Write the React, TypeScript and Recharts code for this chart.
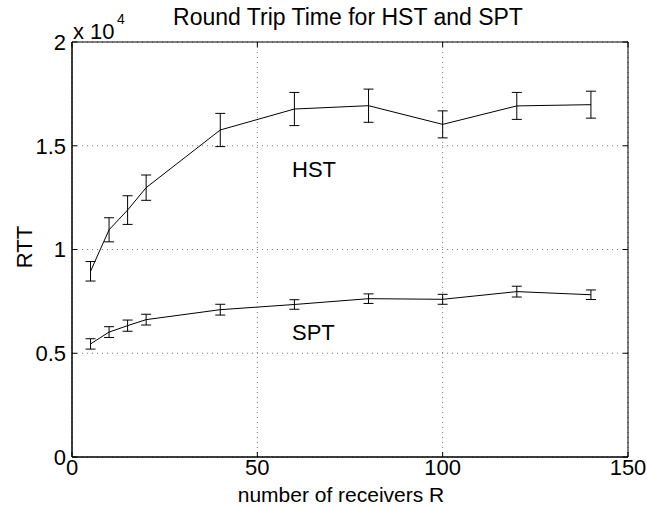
import React from "react";
import {
  LineChart,
  Line,
  XAxis,
  YAxis,
  CartesianGrid,
  ErrorBar,
  ReferenceArea,
} from "recharts";

const receivers = [5, 10, 15, 20, 40, 60, 80, 100, 120, 140];
const hstRtt = [8950, 10950, 11900, 12980, 15760, 16770, 16930, 16030, 16920, 16980];
const hstErr = [470, 580, 690, 610, 800, 800, 800, 650, 650, 650];
const sptRtt = [5450, 6020, 6330, 6620, 7100, 7350, 7630, 7600, 7970, 7820];
const sptErr = [250, 260, 270, 260, 260, 230, 230, 240, 260, 230];

const xTicks = [0, 50, 100, 150];
const yTicks = [0, 5000, 10000, 15000, 20000];

const data = receivers.map((r, i) => ({
  r,
  hst: hstRtt[i],
  hstErr: hstErr[i],
  spt: sptRtt[i],
  sptErr: sptErr[i],
}));

const font = "'Liberation Sans', Arial, sans-serif";

// plot box edges (from the margins + axis sizes below)
const LEFT = 72;
const RIGHT = 628;
const TOP = 42;
const BOTTOM = 457;

// matlab style: ticks point inwards, mirrored on the opposite side
const YTick = (props: any) => {
  const { x, y, payload } = props;
  return (
    <g>
      <text x={x} y={y} dy="0.36em" textAnchor="end" fontSize={22} fontFamily={font} fill="#000">
        {String(payload.value / 10000)}
      </text>
      <line x1={LEFT} x2={LEFT + 5} y1={y} y2={y} stroke="#000" />
      <line x1={RIGHT - 5} x2={RIGHT} y1={y} y2={y} stroke="#000" />
    </g>
  );
};

const XTick = (props: any) => {
  const { x, y, payload } = props;
  return (
    <g>
      <text x={x} y={y} dy="0.7em" textAnchor="middle" fontSize={22} fontFamily={font} fill="#000">
        {payload.value}
      </text>
      <line x1={x} x2={x} y1={BOTTOM} y2={BOTTOM - 5} stroke="#000" />
      <line x1={x} x2={x} y1={TOP} y2={TOP + 5} stroke="#000" />
    </g>
  );
};

export default function App() {
  return (
    <div style={{ position: "absolute", left: 0, top: 0, width: 647, height: 508, background: "#fff" }}>
      <LineChart
        width={647}
        height={508}
        data={data}
        margin={{ top: 42, right: 19, bottom: 11, left: 22 }}
      >
        <CartesianGrid stroke="#777" strokeDasharray="1 4" />
        <XAxis
          dataKey="r"
          type="number"
          domain={[0, 150]}
          ticks={xTicks}
          height={40}
          stroke="#000"
          tickLine={false}
          tickSize={0}
          tickMargin={3}
          tick={<XTick />}
        />
        <YAxis
          type="number"
          domain={[0, 20000]}
          ticks={yTicks}
          width={50}
          stroke="#000"
          tickLine={false}
          tickSize={0}
          tickMargin={6}
          tick={<YTick />}
        />
        <ReferenceArea x1={0} x2={150} y1={0} y2={20000} fill="none" stroke="#000" strokeWidth={1} fillOpacity={0} />
        <Line
          dataKey="hst"
          stroke="#000"
          strokeWidth={1}
          dot={false}
          isAnimationActive={false}
        >
          <ErrorBar dataKey="hstErr" direction="y" width={5} stroke="#000" strokeWidth={1} isAnimationActive={false} />
        </Line>
        <Line
          dataKey="spt"
          stroke="#000"
          strokeWidth={1}
          dot={false}
          isAnimationActive={false}
        >
          <ErrorBar dataKey="sptErr" direction="y" width={5} stroke="#000" strokeWidth={1} isAnimationActive={false} />
        </Line>
      </LineChart>
      <svg
        width={647}
        height={508}
        style={{ position: "absolute", left: 0, top: 0, pointerEvents: "none" }}
        fontFamily={font}
      >
        <text x={348} y={25} textAnchor="middle" fontSize={23}>
          Round Trip Time for HST and SPT
        </text>
        <text x={73} y={39} fontSize={22}>x 10</text>
        <text x={117} y={24} fontSize={14}>4</text>
        <text x={292} y={177} fontSize={22}>HST</text>
        <text x={292} y={340} fontSize={22}>SPT</text>
        <text x={341} y={502} textAnchor="middle" fontSize={21}>
          number of receivers R
        </text>
        <text
          x={0}
          y={0}
          fontSize={22}
          textAnchor="middle"
          transform="translate(32,247) rotate(-90)"
        >
          RTT
        </text>
      </svg>
    </div>
  );
}
